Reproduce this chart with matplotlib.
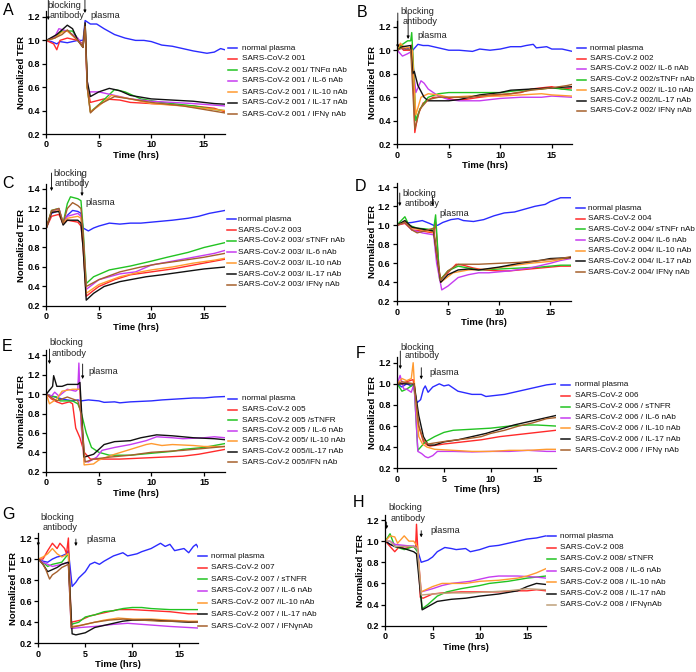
import matplotlib
matplotlib.use("Agg")
import matplotlib.pyplot as plt
from matplotlib.lines import Line2D
from matplotlib.ticker import FormatStrFormatter

plt.rcParams['font.family'] = ['Liberation Sans', 'DejaVu Sans']

W, H = 696, 672

# ---------------- data (time in hrs, normalized TER) ----------------
A_normal = [(0,1.0),(0.5,0.99),(1.0,0.97),(1.3,0.99),(2,0.98),(2.5,0.99),(3,1.0),(3.5,1.0),(3.7,1.17),(4.2,1.14),(4.8,1.14),(5.5,1.1),(6.5,1.05),(7.5,1.02),(8.5,1.0),(9.3,1.0),(10,0.99),(11,0.96),(12,0.95),(12.5,0.94),(13,0.93),(14,0.91),(15.3,0.89),(16,0.9),(16.6,0.93),(17,0.92)]
A_sars = [(0,1.0),(0.7,0.97),(1.0,0.92),(1.3,1.0),(2,1.02),(3,1.0),(3.5,0.97),(3.7,1.1),(3.9,0.6),(4.2,0.47),(5.5,0.5),(7,0.49),(8,0.47),(10,0.46),(12,0.45),(14,0.44),(16,0.42),(17,0.39)]
A_tnf = [(0,1.0),(0.8,1.02),(1.5,1.08),(2.5,1.08),(3.5,0.95),(3.7,1.15),(3.9,0.6),(4.2,0.39),(5,0.45),(6.5,0.58),(7.5,0.56),(9,0.5),(11,0.47),(14,0.44),(16,0.41),(17,0.4)]
A_il6 = [(0,1.0),(0.8,1.03),(1.2,1.1),(2,1.08),(3,1.02),(3.5,0.95),(3.7,1.15),(3.85,0.7),(4,0.56),(5,0.56),(6,0.54),(8,0.5),(10,0.48),(12,0.47),(14,0.46),(17,0.44)]
A_il10 = [(0,1.0),(0.8,1.02),(1.5,1.07),(2,1.08),(3,1.0),(3.5,0.95),(3.7,1.14),(3.9,0.6),(4.2,0.39),(5,0.44),(6.2,0.53),(8,0.5),(10,0.46),(13,0.44),(15,0.42),(17,0.4)]
A_il17 = [(0,1.0),(1,1.05),(2,1.13),(2.5,1.1),(3,1.0),(3.5,0.94),(3.7,1.15),(3.9,0.65),(4.2,0.52),(5,0.56),(6,0.59),(7,0.57),(8,0.53),(10,0.5),(12,0.49),(14,0.48),(16,0.46),(17,0.455)]
A_ifn = [(0,1.0),(0.8,1.02),(1.5,1.05),(2,1.09),(3,1.0),(3.5,0.94),(3.7,1.12),(3.9,0.6),(4.2,0.38),(5,0.45),(6.5,0.52),(8,0.5),(10,0.47),(13,0.44),(15,0.41),(17,0.38)]
A_labels = ["normal plasma", "SARS-CoV-2 001", "SARS-CoV-2 001/ TNFα nAb", "SARS-CoV-2 001 / IL-6 nAb",
            "SARS-CoV-2 001 / IL-10 nAb", "SARS-CoV-2 001 / IL-17 nAb", "SARS-CoV-2 001 / IFNγ nAb"]

B_normal = [(0,1.0),(0.3,1.02),(0.7,1.0),(1.2,1.02),(1.5,1.0),(2,1.05),(2.5,1.04),(3,1.04),(4,1.02),(5,1.0),(6,1.0),(7.3,0.99),(8,1.01),(9,1.0),(10,1.01),(11,1.03),(12,1.03),(12.5,1.04),(13.2,1.05),(13.5,1.02),(14.5,1.03),(15,1.01),(16,1.01),(17,0.99)]
B_sars = [(0,1.0),(0.3,1.05),(0.6,1.0),(1.2,1.0),(1.45,1.05),(1.7,0.30),(2.0,0.45),(2.5,0.55),(3.5,0.6),(4.5,0.6),(5.5,0.58),(6.5,0.58),(8,0.6),(10,0.62),(12,0.64),(13,0.67),(14,0.68),(15,0.69),(16,0.67),(17,0.68)]
B_il6 = [(0,1.0),(0.5,0.95),(1,0.97),(1.4,0.99),(1.8,0.64),(2.3,0.74),(2.6,0.72),(3,0.67),(4,0.61),(5,0.58),(6,0.57),(8,0.57),(10,0.59),(12,0.6),(14,0.6),(15,0.61),(17,0.6)]
B_tnf = [(0,1.0),(0.5,1.05),(1,1.08),(1.3,1.08),(1.4,1.15),(1.55,0.9),(1.8,0.4),(2.2,0.5),(3,0.6),(4,0.63),(5,0.64),(7,0.64),(9,0.64),(10,0.64),(12,0.66),(14,0.67),(15,0.68),(17,0.66)]
B_il10 = [(0,1.0),(0.3,1.06),(0.6,1.03),(1.2,1.02),(1.45,1.0),(1.8,0.45),(2.3,0.6),(3,0.63),(4,0.62),(5,0.6),(7,0.61),(10,0.61),(12,0.62),(14,0.63),(15,0.62),(17,0.61)]
B_il17 = [(0,1.0),(0.5,1.03),(1.3,1.04),(1.5,0.8),(1.65,0.82),(2,0.7),(2.6,0.6),(3,0.57),(5,0.57),(6,0.58),(8,0.62),(10,0.64),(11,0.66),(13,0.67),(15,0.68),(17,0.69)]
B_ifn = [(0,1.0),(0.5,1.02),(1.3,1.0),(1.7,0.33),(2.2,0.5),(3,0.58),(4,0.6),(5,0.6),(7,0.6),(9,0.62),(11,0.63),(13,0.66),(15,0.68),(16.5,0.7),(17,0.71)]
B_labels = ["normal plasma", "SARS-CoV-2 002", "SARS-CoV-2 002/ IL-6 nAb", "SARS-CoV-2 002/sTNFr nAb",
            "SARS-CoV-2 002/ IL-10 nAb", "SARS-CoV-2 002/IL-17 nAb", "SARS-CoV-2 002/ IFNγ nAb"]

C_normal = [(0,1.0),(0.5,1.15),(1.2,1.18),(1.5,1.08),(1.6,1.05),(2,1.13),(2.5,1.18),(3,1.17),(3.3,1.15),(3.5,1.0),(4,0.97),(4.5,1.0),(5,1.02),(6,1.05),(7,1.04),(8,1.05),(9,1.05),(10,1.06),(11,1.07),(12,1.08),(13.5,1.1),(14.5,1.12),(15.5,1.15),(16.5,1.17),(17,1.18)]
C_sars = [(0,1.0),(0.5,1.12),(1.2,1.14),(1.6,1.04),(2,1.08),(3,1.06),(3.3,1.02),(3.5,0.8),(3.8,0.3),(4.5,0.36),(5,0.4),(6.5,0.47),(8,0.52),(10,0.55),(12,0.58),(14,0.62),(16,0.66),(17,0.68)]
C_tnf = [(0,1.0),(0.5,1.18),(1.2,1.2),(1.6,1.05),(2,1.25),(2.3,1.32),(3,1.3),(3.3,1.28),(3.5,1.0),(3.8,0.43),(4.5,0.5),(6,0.57),(8,0.61),(10,0.66),(11.5,0.7),(13.5,0.75),(15,0.8),(17,0.85)]
C_il6 = [(0,1.0),(0.5,1.16),(1.2,1.2),(1.6,1.05),(2,1.12),(3,1.15),(3.3,1.12),(3.5,0.9),(3.8,0.37),(5,0.47),(7,0.53),(8.5,0.55),(10,0.62),(12,0.66),(14,0.7),(16,0.74),(17,0.77)]
C_il10 = [(0,1.0),(0.5,1.16),(1.2,1.18),(1.6,1.05),(2,1.1),(3,1.12),(3.3,1.1),(3.5,0.85),(3.8,0.33),(5,0.42),(7,0.5),(9,0.55),(10,0.57),(12,0.6),(14,0.64),(16,0.67),(17,0.69)]
C_il17 = [(0,1.0),(0.5,1.16),(1.2,1.17),(1.6,1.03),(2,1.08),(3,1.08),(3.3,1.05),(3.5,0.8),(3.8,0.26),(4.5,0.33),(5.5,0.4),(7,0.45),(9.5,0.5),(11,0.52),(13,0.55),(15,0.58),(17,0.6)]
C_ifn = [(0,1.0),(0.5,1.18),(1.2,1.2),(1.6,1.05),(2,1.2),(2.5,1.26),(3,1.23),(3.3,1.2),(3.5,0.95),(3.8,0.4),(5,0.47),(7,0.55),(9,0.6),(10.5,0.63),(12.5,0.66),(15,0.7),(17,0.74)]
C_labels = ["normal plasma", "SARS-CoV-2 003", "SARS-CoV-2 003/ sTNFr nAb", "SARS-CoV-2 003/ IL-6 nAb",
            "SARS-CoV-2 003/ IL-10 nAb", "SARS-CoV-2 003/ IL-17 nAb", "SARS-CoV-2 003/ IFNγ nAb"]

D_normal = [(0,1.0),(0.5,1.02),(1.5,1.03),(2.5,1.05),(3.2,1.02),(3.6,1.0),(4,1.0),(4.5,1.03),(5.3,1.06),(6,1.07),(6.5,1.05),(7.5,1.04),(8.5,1.06),(9.5,1.1),(10.5,1.13),(11.5,1.14),(12.5,1.17),(13.5,1.2),(14.5,1.22),(15,1.25),(16,1.29),(17,1.29)]
D_sars = [(0,1.0),(0.8,1.02),(1,1.0),(1.5,0.95),(2.5,0.94),(3,0.93),(3.6,0.92),(3.8,1.03),(4.2,0.43),(5,0.5),(5.8,0.59),(6.5,0.58),(7.5,0.55),(8.5,0.53),(10,0.52),(11,0.52),(12,0.53),(14,0.55),(16,0.57),(17,0.57)]
D_tnf = [(0,1.0),(0.8,1.09),(1.2,1.0),(2,0.97),(3,0.96),(3.6,0.95),(3.8,1.11),(4.2,0.42),(5,0.52),(6,0.57),(7,0.55),(8,0.53),(10,0.54),(12,0.55),(14,0.56),(16,0.58),(17,0.58)]
D_il6 = [(0,1.0),(0.8,1.03),(1.5,0.95),(2.5,0.92),(3.6,0.9),(3.9,0.6),(4.4,0.32),(5,0.36),(6,0.45),(7,0.48),(8,0.5),(9,0.5),(11,0.52),(13,0.55),(15,0.6),(16,0.63),(17,0.65)]
D_il10 = [(0,1.0),(0.8,1.04),(1.5,0.97),(2.5,0.95),(3.6,0.93),(3.9,0.7),(4.3,0.4),(5.5,0.5),(7,0.53),(9,0.54),(11,0.57),(13,0.6),(15,0.62),(17,0.66)]
D_il17 = [(0,1.0),(0.8,1.05),(1.5,0.98),(2.5,0.96),(3.6,0.94),(3.9,0.7),(4.3,0.4),(5,0.48),(6,0.53),(7,0.54),(8,0.53),(10,0.56),(12,0.6),(14,0.63),(15,0.65),(17,0.66)]
D_ifn = [(0,1.0),(0.8,1.03),(1.5,0.95),(2,0.92),(3,0.95),(3.6,0.97),(3.9,0.7),(4.3,0.42),(5,0.52),(6,0.59),(8,0.59),(10,0.6),(12,0.61),(14,0.63),(16,0.65),(17,0.67)]
D_labels = ["normal plasma", "SARS-CoV-2 004", "SARS-CoV-2 004/ sTNFr nAb", "SARS-CoV-2 004/ IL-6 nAb",
            "SARS-CoV-2 004/ IL-10 nAb", "SARS-CoV-2 004/ IL-17 nAb", "SARS-CoV-2 004/ IFNγ nAb"]

E_normal = [(0,1.0),(0.5,0.98),(1.5,0.95),(2.5,0.93),(3,0.94),(3.3,0.93),(4,0.94),(5,0.93),(5.5,0.915),(6.5,0.92),(7,0.91),(8,0.92),(10,0.93),(11,0.94),(12.5,0.95),(14,0.96),(15,0.96),(16,0.97),(17,0.975)]
E_sars = [(0,1.0),(0.5,0.95),(1,0.92),(1.5,0.9),(2.2,0.92),(2.5,0.9),(2.8,0.65),(3.2,0.55),(3.6,0.4),(4.2,0.33),(5,0.33),(7,0.33),(9,0.34),(11,0.35),(13,0.36),(14.5,0.38),(16,0.41),(17,0.43)]
E_tnf = [(0,1.0),(0.5,0.98),(1,0.97),(1.3,0.93),(2.5,0.93),(3,0.9),(3.3,0.82),(3.8,0.6),(4.3,0.45),(5,0.4),(6,0.37),(8,0.37),(10,0.39),(12,0.41),(13,0.43),(15,0.45),(16.5,0.48),(17,0.49)]
E_il6 = [(0,1.0),(0.5,0.98),(0.8,1.02),(1.2,0.98),(2,1.05),(2.8,1.03),(3.0,1.05),(3.1,1.32),(3.3,0.7),(3.6,0.31),(4,0.3),(4.8,0.35),(5.3,0.42),(6.5,0.45),(8,0.48),(9.5,0.52),(10.5,0.56),(12,0.55),(13,0.54),(15,0.55),(16,0.56),(17,0.55)]
E_il10 = [(0,1.0),(0.3,0.9),(1,0.95),(1.5,1.03),(2.5,1.05),(3.2,1.05),(3.6,0.27),(4.5,0.28),(5,0.32),(6.5,0.38),(8,0.43),(9.5,0.48),(10,0.49),(11,0.47),(12,0.48),(14,0.47),(15,0.46),(17,0.46)]
E_il17 = [(0,1.0),(0.6,1.08),(0.7,1.19),(1,1.08),(1.5,1.08),(2,1.1),(3,1.1),(3.2,1.12),(3.6,0.35),(4.5,0.38),(5.5,0.48),(6.5,0.51),(8,0.52),(9,0.55),(10.5,0.58),(12,0.57),(14,0.55),(16,0.54),(17,0.53)]
E_ifn = [(0,1.0),(1,0.93),(2,0.97),(2.5,0.95),(3,0.93),(3.3,0.8),(3.7,0.3),(4.5,0.33),(6,0.35),(8,0.37),(10,0.4),(13,0.42),(15,0.44),(17,0.46)]
E_labels = ["normal plasma", "SARS-CoV-2 005", "SARS-CoV-2 005 /sTNFR", "SARS-CoV-2 005 / IL-6 nAb",
            "SARS-CoV-2 005/ IL-10 nAb", "SARS-CoV-2 005/IL-17 nAb", "SARS-CoV-2 005/IFN nAb"]

F_normal = [(0,1.0),(0.5,0.97),(1,1.0),(1.5,0.98),(1.7,1.0),(2.1,0.82),(2.5,0.85),(2.8,0.95),(3,0.98),(3.3,0.92),(3.8,0.97),(4.5,1.0),(5,0.98),(5.5,0.99),(6,0.96),(6.5,0.93),(7.5,0.91),(8,0.9),(9,0.9),(9.5,0.88),(10.5,0.89),(11.5,0.9),(12.5,0.92),(14,0.95),(15,0.97),(16,0.99),(17,1.0)]
F_sars = [(0,1.0),(0.5,1.0),(1,1.02),(1.7,1.04),(2.3,0.6),(2.8,0.45),(3.2,0.42),(3.5,0.41),(5,0.43),(7,0.45),(9,0.47),(11,0.5),(13,0.52),(15,0.54),(17,0.56)]
F_tnf = [(0,1.0),(0.5,0.93),(1,0.95),(1.5,0.98),(1.8,0.99),(2.2,0.37),(2.5,0.4),(3,0.45),(4,0.5),(5,0.54),(6,0.56),(8,0.57),(10,0.58),(12,0.6),(14,0.61),(15,0.61),(17,0.6)]
F_il6 = [(0,1.0),(0.3,1.08),(0.7,0.95),(1,0.95),(1.5,0.92),(1.8,1.0),(2.2,0.36),(2.6,0.34),(3,0.31),(3.3,0.3),(3.8,0.32),(4.3,0.36),(6,0.36),(8,0.355),(10,0.36),(12,0.36),(14,0.37),(16,0.36),(17,0.36)]
F_il10 = [(0,1.0),(0.5,1.05),(1,1.03),(1.5,1.05),(1.7,1.2),(1.8,1.05),(2.3,0.5),(2.7,0.43),(3.2,0.4),(4,0.38),(6,0.37),(8,0.36),(10,0.36),(12,0.37),(14,0.37),(16,0.38),(17,0.38)]
F_il17 = [(0,1.0),(0.5,1.0),(1,1.0),(1.8,1.0),(2.3,0.7),(2.8,0.5),(3.3,0.42),(4,0.42),(5,0.45),(6.5,0.47),(8,0.5),(9.5,0.53),(11,0.57),(12.5,0.61),(14,0.64),(15.5,0.67),(16.5,0.69),(17,0.7)]
F_ifn = [(0,1.0),(0.5,1.02),(1.8,1.0),(2.3,0.6),(2.8,0.47),(3.3,0.43),(4,0.44),(5.5,0.46),(7.5,0.48),(9,0.5),(10,0.53),(11.5,0.56),(13,0.6),(14.5,0.63),(16,0.67),(17,0.68)]
F_labels = ["normal plasma", "SARS-CoV-2 006", "SARS-CoV-2 006 / sTNFR", "SARS-CoV-2 006 / IL-6 nAb",
            "SARS-CoV-2 006 / IL-10 nAb", "SARS-CoV-2 006 / IL-17 nAb", "SARS-CoV-2 006 / IFNγ nAb"]

G_normal = [(0,1.0),(0.5,0.98),(1,0.97),(1.5,1.0),(2,1.02),(2.5,1.03),(3,1.05),(3.2,1.08),(3.6,0.74),(4,0.78),(4.3,0.82),(5,0.88),(5.5,0.95),(6,0.97),(6.5,0.95),(7,0.98),(8,1.03),(9,1.06),(9.5,1.03),(10.5,1.05),(11,1.07),(12,1.1),(13,1.15),(13.5,1.12),(14,1.14),(14.5,1.08),(15.5,1.1),(16,1.06),(16.5,1.12),(16.8,1.14),(17,1.11)]
G_sars = [(0,1.0),(0.5,1.0),(1,1.08),(1.5,1.15),(2,1.1),(2.3,1.15),(2.8,1.1),(3,1.05),(3.2,1.2),(3.5,0.4),(4.5,0.42),(5.5,0.46),(6.5,0.48),(7.5,0.5),(8.5,0.52),(10,0.52),(12,0.51),(14,0.5),(16,0.48),(17,0.48)]
G_tnf = [(0,1.0),(0.5,0.97),(1,0.93),(1.5,0.95),(2.5,0.97),(3.2,1.05),(3.5,0.38),(4.3,0.4),(5,0.45),(6,0.47),(7,0.5),(8,0.51),(9,0.53),(10,0.54),(11,0.54),(12,0.53),(14,0.52),(17,0.52)]
G_il6 = [(0,1.0),(0.5,0.97),(1,0.95),(1.5,0.93),(2.5,0.95),(3.2,0.97),(3.5,0.34),(4.5,0.35),(6,0.36),(8,0.38),(9.5,0.39),(11,0.38),(12.5,0.37),(14,0.36),(16,0.35),(17,0.345)]
G_il10 = [(0,1.0),(0.5,1.02),(1,1.05),(1.5,1.1),(2,1.05),(2.5,1.02),(3.2,1.05),(3.5,0.36),(4.5,0.37),(6,0.4),(7,0.42),(8.5,0.44),(10,0.43),(12,0.43),(14,0.42),(16,0.41),(17,0.41)]
G_il17 = [(0,1.0),(0.5,0.95),(1,0.88),(1.5,0.9),(2,0.92),(2.5,0.95),(3.2,0.97),(3.6,0.29),(4,0.28),(5,0.3),(6,0.35),(7.5,0.38),(9,0.41),(10,0.42),(12,0.42),(14,0.41),(16,0.4),(17,0.4)]
G_ifn = [(0,1.0),(0.5,0.95),(0.8,0.9),(1.2,0.81),(1.5,0.85),(2,0.88),(2.5,0.92),(3.2,0.95),(3.5,0.35),(4.5,0.37),(6,0.4),(7.5,0.42),(9,0.43),(11,0.42),(13,0.41),(15,0.41),(17,0.4)]
G_labels = ["normal plasma", "SARS-CoV-2 007", "SARS-CoV-2 007 / sTNFR", "SARS-CoV-2 007 / IL-6 nAb",
            "SARS-CoV-2 007 /IL-10 nAb", "SARS-CoV-2 007 / IL-17 nAb", "SARS-CoV-2 007 / IFNγnAb"]

H_normal = [(0,1.0),(0.5,0.97),(1,0.95),(2,0.95),(3,0.95),(3.3,0.95),(3.8,0.8),(4.5,0.82),(5,0.85),(5.5,0.9),(6.3,0.94),(7,0.93),(7.5,0.92),(8.5,0.93),(9,0.9),(10,0.92),(11,0.95),(12,0.96),(13,0.98),(14,1.0),(15,1.02),(16,1.03),(17,1.05)]
H_sars = [(0,1.0),(0.5,0.95),(1,0.9),(1.5,0.95),(2,0.93),(3,0.95),(3.2,0.93),(3.3,1.16),(3.45,0.9),(3.7,0.47),(4,0.46),(5,0.5),(6,0.51),(8,0.52),(10,0.52),(12,0.52),(14,0.53),(15,0.53),(16,0.54),(17,0.53)]
H_tnf = [(0,1.0),(0.5,1.07),(1,0.95),(2,0.92),(3,0.95),(3.4,0.9),(3.9,0.36),(4.5,0.4),(5.5,0.48),(6.5,0.52),(7,0.53),(8,0.55),(10,0.58),(11,0.6),(13,0.62),(15,0.65),(17,0.67)]
H_il6 = [(0,1.0),(0.5,1.0),(1,0.97),(2,0.96),(3,0.95),(3.4,0.93),(3.8,0.52),(5,0.55),(6,0.58),(7,0.6),(9,0.62),(10,0.64),(11,0.66),(12,0.67),(14,0.67),(16,0.66),(17,0.65)]
H_il10 = [(0,1.0),(0.5,1.05),(1,1.04),(1.3,0.98),(2,1.05),(2.5,1.0),(3,1.0),(3.4,0.95),(3.8,0.52),(5,0.57),(6,0.6),(7,0.6),(8.5,0.6),(10,0.62),(12,0.63),(14,0.65),(15,0.67),(16,0.7),(17,0.74)]
H_il17 = [(0,1.0),(0.5,0.97),(1,0.95),(2,0.93),(3,0.9),(3.3,0.88),(3.9,0.35),(4.5,0.38),(5.5,0.43),(7,0.45),(8.5,0.46),(10,0.48),(12,0.5),(14,0.53),(15,0.57),(16,0.6),(17,0.59)]
H_ifn = [(0,1.0),(0.5,1.0),(1,0.95),(2,0.95),(3,0.95),(3.4,0.93),(3.8,0.49),(5,0.5),(7,0.51),(9,0.51),(11,0.52),(13,0.53),(15,0.55),(17,0.54)]
H_labels = ["normal plasma", "SARS-CoV-2 008", "SARS-CoV-2 008/ sTNFR", "SARS-CoV-2 008 / IL-6 nAb",
            "SARS-CoV-2 008 / IL-10 nAb", "SARS-CoV-2 008 / IL-17 nAb", "SARS-CoV-2 008 / IFNγnAb"]

x_ticks = [0, 5, 10, 15]
x_tick_labels = ["0", "5", "10", "15"]
y_ticks_12 = [0.2, 0.4, 0.6, 0.8, 1.0, 1.2]
y_ticks_14 = [0.2, 0.4, 0.6, 0.8, 1.0, 1.2, 1.4]

# ---------------- styles ----------------
BLUE, RED, GREEN, PURPLE, ORANGE, BLACK, BROWN, TAN = (
    "#2b2bff", "#ff2a2a", "#22c322", "#c63cf0", "#ff9a30", "#111111", "#a5602c", "#bfa07a")
ORDER_STD = [BLUE, RED, GREEN, PURPLE, ORANGE, BLACK, BROWN]
ORDER_B = [BLUE, RED, PURPLE, GREEN, ORANGE, BLACK, BROWN]
ORDER_H = [BLUE, RED, GREEN, PURPLE, ORANGE, BLACK, TAN]

# layout in pixels: x0 = px of t=0, ppx = px per hour, y02 = px of 0.2, y12 = px of 1.2
panels = [
    dict(letter="A", series=[A_normal, A_sars, A_tnf, A_il6, A_il10, A_il17, A_ifn], labels=A_labels, colors=ORDER_STD,
         x0=46.3, ppx=10.5, y02=134, y12=17, ytop=1.25, yt=y_ticks_12,
         leg=(228, 242, 48, 114), let=(3, 3),
         arrows=[(0.19, 0, 20), (3.68, 0, 13)], txt=[(1.73, 6, "blocking"), (1.97, 16, "antibody"), (5.6, 15, "plasma")]),
    dict(letter="B", series=[B_normal, B_sars, B_il6, B_tnf, B_il10, B_il17, B_ifn], labels=B_labels, colors=ORDER_B,
         x0=397.3, ppx=10.3, y02=144.3, y12=26.7, ytop=1.25, yt=y_ticks_12,
         leg=(577, 590, 48, 111), let=(357, 5),
         arrows=[(0.05, 13, 48), (1.05, 13, 39)], txt=[(1.9, 11.5, "blocking"), (2.2, 21.5, "antibody"), (3.37, 35, "plasma")]),
    dict(letter="C", series=[C_normal, C_sars, C_tnf, C_il6, C_il10, C_il17, C_ifn], labels=C_labels, colors=ORDER_STD,
         x0=46.3, ppx=10.51, y02=306, y12=208.5, ytop=1.45, yt=y_ticks_14,
         leg=(227, 238, 219, 285), let=(2, 176),
         arrows=[(0.5, 173, 191), (3.4, 173, 196)], txt=[(2.25, 174, "blocking"), (2.5, 184, "antibody"), (5.1, 203, "plasma")]),
    dict(letter="D", series=[D_normal, D_sars, D_tnf, D_il6, D_il10, D_il17, D_ifn], labels=D_labels, colors=ORDER_STD,
         x0=396.7, ppx=10.24, y02=301.3, y12=206.3, ytop=1.45, yt=y_ticks_14,
         leg=(576, 588, 208, 272), let=(355, 179),
         arrows=[(0.3, 193, 206), (3.5, 196, 206)], txt=[(2.18, 194, "blocking"), (2.47, 204, "antibody"), (5.65, 213, "plasma")]),
    dict(letter="E", series=[E_normal, E_sars, E_tnf, E_il6, E_il10, E_il17, E_ifn], labels=E_labels, colors=ORDER_STD,
         x0=46.3, ppx=10.51, y02=471.7, y12=374.7, ytop=1.45, yt=y_ticks_14,
         leg=(228, 242, 399, 462), let=(2, 339),
         arrows=[(0.3, 349, 364), (3.46, 364, 379)], txt=[(1.87, 342.5, "blocking"), (2.2, 353, "antibody"), (5.4, 371.5, "plasma")]),
    dict(letter="F", series=[F_normal, F_sars, F_tnf, F_il6, F_il10, F_il17, F_ifn], labels=F_labels, colors=ORDER_STD,
         x0=397.3, ppx=9.33, y02=468.3, y12=362.7, ytop=1.25, yt=y_ticks_12,
         leg=(561, 575, 385, 450), let=(356, 346),
         arrows=[(0.32, 351, 369), (2.57, 367.7, 379.3)], txt=[(2.2, 347, "blocking"), (2.65, 356, "antibody"), (5.06, 372.7, "plasma")]),
    dict(letter="G", series=[G_normal, G_sars, G_tnf, G_il6, G_il10, G_il17, G_ifn], labels=G_labels, colors=ORDER_STD,
         x0=38.3, ppx=9.4, y02=643.3, y12=538, ytop=1.25, yt=y_ticks_12,
         leg=(198, 211, 556, 626), let=(2, 507),
         arrows=[(0.0, 539, 546), (4.0, 539, 546)], txt=[(2.0, 517.5, "blocking"), (2.3, 528, "antibody"), (6.75, 540, "plasma")]),
    dict(letter="H", series=[H_normal, H_sars, H_tnf, H_il6, H_il10, H_il17, H_ifn], labels=H_labels, colors=ORDER_H,
         x0=385.3, ppx=9.45, y02=625.7, y12=520, ytop=1.25, yt=y_ticks_12,
         leg=(547, 560, 536, 605), let=(353, 495),
         arrows=[(0.14, 522, 529), (3.8, 530.7, 537.3)], txt=[(2.14, 507.5, "blocking"), (2.4, 518, "antibody"), (6.4, 530.7, "plasma")]),
]

fig = plt.figure(figsize=(W / 100, H / 100), dpi=100)
fig.patch.set_facecolor("white")

for p in panels:
    x0, ppx = p["x0"], p["ppx"]
    ppy = (p["y02"] - p["y12"]) / 1.0
    top_px = p["y02"] - (p["ytop"] - 0.2) * ppy
    right_px = x0 + 17 * ppx
    ax = fig.add_axes([x0 / W, 1 - p["y02"] / H, (right_px - x0) / W, (p["y02"] - top_px) / H])
    ax.set_xlim(0, 17)
    ax.set_ylim(0.2, p["ytop"])
    for s, c in zip(p["series"], p["colors"]):
        ax.plot([t for t, v in s], [v for t, v in s], color=c, lw=1.0, solid_joinstyle="round")
    for side in ("top", "right"):
        ax.spines[side].set_visible(False)
    for side in ("left", "bottom"):
        ax.spines[side].set_linewidth(0.9)
    ax.set_xticks(x_ticks)
    ax.set_xticklabels(x_tick_labels)
    ax.set_yticks(p["yt"])
    ax.yaxis.set_major_formatter(FormatStrFormatter("%.1f"))
    ax.tick_params(direction="out", length=3, width=0.9, labelsize=6.5, pad=1.5)
    for lbl in ax.get_xticklabels() + ax.get_yticklabels():
        lbl.set_fontweight("bold")
    ax.set_xlabel("Time (hrs)", fontsize=6.8, fontweight="bold")
    ax.set_ylabel("Normalized TER", fontsize=6.8, fontweight="bold")
    ax.xaxis.set_label_coords(0.5, -17 / (p["y02"] - top_px))
    ax.yaxis.set_label_coords(-20 / (right_px - x0), 0.5)

    def to_data_y(py):
        return 0.2 + (p["y02"] - py) / ppy

    for t, ys, ye in p["arrows"]:
        ax.annotate("", xy=(t, to_data_y(ye)), xytext=(t, to_data_y(ys)),
                    arrowprops=dict(arrowstyle="-|>", color="black", lw=0.6, mutation_scale=4,
                                    shrinkA=0, shrinkB=0), annotation_clip=False)
    for t, py, s in p["txt"]:
        ax.text(t, to_data_y(py), s, ha="center", va="center", fontsize=6.6, color="#222222", clip_on=False)

    # legend drawn manually
    lx0, tx, ly0, ly1 = p["leg"]
    n = len(p["labels"])
    for i, (lab, c) in enumerate(zip(p["labels"], p["colors"])):
        yy = ly0 + (ly1 - ly0) * i / (n - 1)
        fig.add_artist(Line2D([lx0 / W, (lx0 + 9) / W], [1 - yy / H, 1 - yy / H], color=c, lw=1.1))
        fig.text(tx / W, 1 - yy / H, lab, fontsize=5.9, va="center", ha="left", color="#111111")

    lx, ly = p["let"]
    fig.text(lx / W, 1 - ly / H, p["letter"], fontsize=11.5, va="top", ha="left")

fig.savefig("out.png", dpi=100, facecolor="white")
